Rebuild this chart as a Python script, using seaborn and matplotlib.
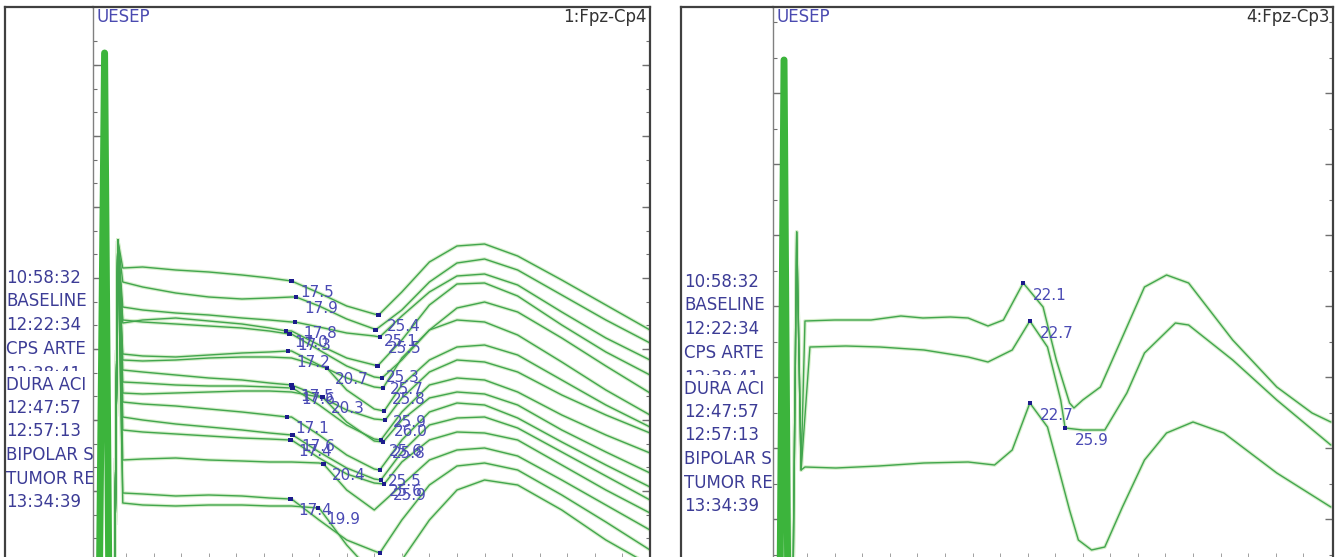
import numpy as np
import pandas as pd
import matplotlib.pyplot as plt
import seaborn as sns

# ---------------- data ----------------
# latency grid (ms) used by the left-channel traces after the stimulus artifact
grid_ms = [2.2, 4, 7, 10, 13, 15.5, 17.5, 20, 22.5, 25, 27.5, 30, 32.5, 35, 38, 42, 46, 50]

# left channel (1:Fpz-Cp4), amplitude in display units (negative up, as on the monitor)
left_traces = [
    [268, 267, 270, 272, 275, 278, 281, 293, 306, 314, 292, 262, 246, 244, 256, 280, 305, 330],
    [282, 287, 293, 297, 299, 298, 297, 306, 319, 329, 310, 282, 263, 259, 270, 295, 320, 343],
    [307, 310, 313, 315, 318, 320, 322, 327, 333, 336, 316, 292, 276, 274, 285, 312, 338, 360],
    [323, 320, 318, 321, 324, 328, 331, 345, 358, 365, 340, 305, 284, 283, 296, 325, 352, 375],
    [320, 322, 324, 326, 328, 331, 334, 350, 366, 377, 360, 330, 308, 302, 312, 338, 366, 393],
    [354, 356, 357, 355, 353, 352, 351, 365, 378, 387, 358, 330, 320, 322, 335, 362, 390, 415],
    [360, 361, 360, 358, 357, 357, 358, 366, 390, 409, 385, 360, 347, 345, 355, 380, 405, 427],
    [370, 372, 375, 378, 380, 383, 385, 396, 410, 419, 398, 372, 360, 362, 372, 395, 415, 433],
    [382, 383, 385, 386, 386, 387, 388, 405, 425, 439, 412, 385, 378, 380, 392, 415, 435, 453],
    [393, 394, 393, 392, 391, 391, 392, 397, 422, 441, 420, 398, 392, 394, 405, 430, 452, 473],
    [402, 404, 406, 409, 412, 415, 417, 435, 455, 469, 440, 412, 403, 405, 418, 442, 465, 487],
    [417, 420, 424, 427, 430, 433, 435, 452, 468, 479, 452, 425, 418, 417, 428, 452, 476, 500],
    [430, 432, 434, 436, 438, 439, 440, 458, 474, 483, 462, 440, 432, 433, 440, 465, 490, 513],
    [460, 459, 458, 460, 461, 462, 462, 463, 490, 510, 485, 460, 450, 448, 456, 480, 505, 530],
    [493, 494, 496, 495, 496, 498, 499, 520, 540, 551, 520, 485, 466, 463, 470, 495, 522, 550],
    [503, 505, 506, 505, 505, 506, 506, 508, 545, 575, 560, 520, 490, 480, 485, 510, 540, 565],
]
left_m1_lat = [17.5, 17.9, 17.8, 17.0, 17.3, 17.2, 20.7, 17.5, 17.6, 20.3, 17.1, 17.6, 17.4, 20.4, 17.4, 19.9]
left_m1_amp = [281, 297, 322, 331, 334, 351, 368, 385, 388, 397, 417, 435, 440, 464, 499, 508]
left_m2_lat = [25.4, 25.1, 25.5, 25.3, 25.7, 25.8, 25.9, 26.0, 25.6, 25.8, 25.5, 25.6, 25.9, None, 25.5, None]
left_m2_amp = [315, 330, 337, 366, 378, 388, 411, 420, 440, 442, 470, 480, 484, None, 553, None]

# stimulus artifact and early secondary spike (shared)
left_artifact_ms = [-0.5, 0.1, 0.55, 0.95, 1.3]
left_artifact_amp = [600, 560, 53, 600, 600]
left_lead_ms = [1.45, 1.75]
left_lead_amp = [600, 240]

# right channel (4:Fpz-Cp3)
r1_ms = [2.3, 5, 8.3, 11, 13, 15.5, 17.1, 18.9, 20.3, 22.1, 23.9, 25.1, 26.3, 26.7, 27.5, 29.1,
         31.5, 33.1, 35.1, 37.1, 41.1, 45.1, 48.3, 50]
r1_amp = [321, 320, 320, 316, 318, 317, 318, 326, 320, 283, 307, 360, 403, 408, 400, 387,
          327, 287, 275, 283, 340, 387, 413, 422]
r2_ms = [2.75, 6, 9.1, 13.1, 17.1, 18.9, 21.1, 22.7, 24.3, 25.5, 25.9, 27.5, 29.5, 31.5, 33.1,
         35.9, 37.1, 41.1, 45.1, 50]
r2_amp = [347, 346, 347, 350, 357, 362, 350, 321, 347, 400, 428, 430, 430, 393, 353,
          323, 325, 360, 400, 445]
r3_ms = [2.3, 5.1, 9, 13.1, 17.1, 19.5, 21.1, 22.7, 24.3, 25.1, 26.3, 27.1, 28.3, 29.5, 31.1,
         33.1, 35.1, 37.5, 40.3, 45.1, 50]
r3_amp = [467, 468, 466, 463, 462, 465, 450, 403, 427, 460, 510, 540, 550, 547, 507,
          460, 433, 422, 433, 473, 507]
right_marker_lat = [22.1, 22.7, 22.7, 25.9]
right_marker_amp = [283, 321, 403, 428]

right_artifact_ms = [-0.6, 0.05, 0.4, 0.75]
right_artifact_amp = [600, 570, 60, 600]
right_lead_ms = [1.2, 1.55, 1.95]
right_lead_amp = [600, 232, 470]

row_labels = ["10:58:32", "BASELINE", "12:22:34", "CPS ARTE", "12:38:41", "DURA ACI",
              "12:47:57", "12:57:13", "BIPOLAR S", "TUMOR RE", "13:34:39"]

# ---------------- style ----------------
sns.set_style("white")
plt.rcParams['font.family'] = ['DejaVu Sans']

W, H = 1340, 557
fig = plt.figure(figsize=(W / 100, H / 100), dpi=100)


def px_axes(x0, x1, y0, y1):
    return fig.add_axes([x0 / W, 1 - y1 / H, (x1 - x0) / W, (y1 - y0) / H])


core = '#42a64e'
halo = '#d6eecb'
artifact_col = '#3cb43c'
label_col = '#3c3c96'
mark_col = '#1c1c8c'
mlab_col = '#4a4ab4'
frame_col = '#404040'

# left traces -> long table
rows = []
for i, amps in enumerate(left_traces):
    pts = dict(zip(left_lead_ms + grid_ms, left_lead_amp + amps))
    pts[left_m1_lat[i]] = left_m1_amp[i]
    if left_m2_lat[i] is not None:
        pts[left_m2_lat[i]] = left_m2_amp[i]
    for t in sorted(pts):
        rows.append((i, t, pts[t]))
left_df = pd.DataFrame(rows, columns=['trace', 'ms', 'amp'])

left_marks = pd.DataFrame({
    'ms': left_m1_lat + [v for v in left_m2_lat if v is not None],
    'amp': left_m1_amp + [v for v in left_m2_amp if v is not None],
})

rows = []
for i, (ms, amp) in enumerate([(r1_ms, r1_amp), (r2_ms, r2_amp), (r3_ms, r3_amp)]):
    for t, a in zip(right_lead_ms + ms, right_lead_amp + amp):
        rows.append((i, t, a))
right_df = pd.DataFrame(rows, columns=['trace', 'ms', 'amp'])
right_marks = pd.DataFrame({'ms': right_marker_lat, 'amp': right_marker_amp})


def panel(fx0, fx_axis, fx1, xlim, df, art_ms, art_amp, marks, channel,
          ymaj, ymin, label_dy, lab_off):
    # label column
    lab = px_axes(fx0, fx_axis, 7, H)
    lab.set_xlim(0, fx_axis - fx0)
    lab.set_ylim(H, 7)
    lab.set_xticks([])
    lab.set_yticks([])
    for s in ['right', 'bottom']:
        lab.spines[s].set_visible(False)
    for s in ['left', 'top']:
        lab.spines[s].set_color(frame_col)
        lab.spines[s].set_linewidth(1.6)
        lab.spines[s].set_zorder(10)
    row_y = [278, 301.5, 325, 349, 374, 384.5, 408, 431.5, 455, 478.5, 502]
    for txt, y in zip(row_labels, row_y):
        kw = dict(fontsize=12, color=label_col, va='center', ha='left', clip_on=True)
        if txt == "DURA ACI":
            kw['bbox'] = dict(boxstyle='square,pad=0.25', fc='white', ec='none')
            kw['zorder'] = 4
        lab.text(1 + (fx_axis - fx0 - 88) * 0.5, y + label_dy, txt, **kw)

    ax = px_axes(fx_axis, fx1, 7, H)
    sns.lineplot(data=df, x='ms', y='amp', units='trace', estimator=None, sort=False,
                 color=halo, lw=2.6, ax=ax, legend=False)
    sns.lineplot(x=art_ms, y=art_amp, sort=False, color=artifact_col, lw=5, ax=ax)
    sns.lineplot(data=df, x='ms', y='amp', units='trace', estimator=None, sort=False,
                 color=core, lw=1.0, ax=ax, legend=False)
    sns.scatterplot(data=marks, x='ms', y='amp', marker='s', s=10, color=mark_col,
                    edgecolor='none', ax=ax, zorder=5)
    for lat, amp in zip(marks['ms'], marks['amp']):
        if amp > 540:
            continue  # its label lies below the visible part of the screen
        ax.annotate(f"{lat:.1f}", xy=(lat, amp), xytext=lab_off, textcoords='offset points',
                    fontsize=11, color=mlab_col, va='center', ha='left', zorder=6)

    ax.set_xlim(*xlim)
    ax.set_ylim(H, 7)
    ax.set_xlabel('')
    ax.set_ylabel('')
    ax.spines['bottom'].set_visible(False)
    ax.spines['left'].set_color('#808080')
    ax.spines['left'].set_linewidth(1.0)
    for s in ['top', 'right']:
        ax.spines[s].set_color(frame_col)
        ax.spines[s].set_linewidth(1.6)
    ax.set_yticks(ymaj)
    ax.set_yticks(ymin, minor=True)
    ax.set_xticks([])
    ax.set_xticks(np.arange(0, 50, 2.5), minor=True)
    ax.tick_params(axis='y', which='both', direction='in', left=True, right=True,
                   labelleft=False, color='#707070')
    ax.tick_params(axis='y', which='major', length=6, width=1)
    ax.tick_params(axis='y', which='minor', length=3, width=0.8)
    ax.tick_params(axis='x', which='minor', direction='in', bottom=True, length=3,
                   color='#909090')
    ax.text(3 / (fx1 - fx_axis), 1 - 10 / (H - 7), 'UESEP', transform=ax.transAxes,
            fontsize=12, color='#4a4ab0', va='center', ha='left')
    ax.text(1 - 3 / (fx1 - fx_axis), 1 - 10 / (H - 7), channel, transform=ax.transAxes,
            fontsize=12, color='#333333', va='center', ha='right')
    return ax


panel(5, 93, 650, (-0.5, 50.0), left_df, left_artifact_ms, left_artifact_amp, left_marks,
      '1:Fpz-Cp4', np.arange(65, H, 71), np.arange(41.3, H, 23.67), 0, (6, -8))
panel(681, 773, 1333, (-0.6, 50.2), right_df, right_artifact_ms, right_artifact_amp,
      right_marks, '4:Fpz-Cp3', np.arange(93, H, 71), np.arange(22, H, 35.5), 4, (7, -9))

plt.savefig('out.png', dpi=100)
